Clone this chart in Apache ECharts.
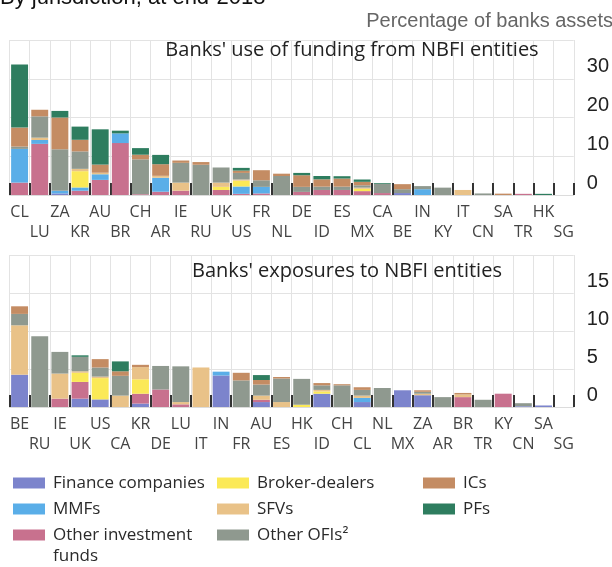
<!DOCTYPE html>
<html>
<head>
<meta charset="utf-8">
<script src="https://cdn.jsdelivr.net/npm/echarts@6/dist/echarts.min.js"></script>
<style>
html,body{margin:0;padding:0;background:#fff;}
#c{width:612px;height:567px;}
</style>
</head>
<body>
<div id="c"></div>
<script>
// ---------- DATA ----------
const seriesNames = ['Finance companies','Other investment funds','MMFs','Broker-dealers','SFVs','Other OFIs²','ICs','PFs'];
const seriesColors = ['#7c84cc','#c8718e','#5aaee8','#fbe957','#e9c288','#8f998f','#c48c63','#2e7d5f'];

// Panel 1: Banks' use of funding from NBFI entities
const topCats = ['CL','LU','ZA','KR','AU','BR','CH','AR','IE','RU','UK','US','FR','NL','DE','ID','ES','MX','CA','BE','IN','KY','IT','CN','SA','TR','HK','SG'];
const topFinance = [0,0,0.4,0,0,0,0,0,0,0,0,0,0,0,0,0,0,0,0,0.5,0,0,0,0,0,0,0,0];
const topOIF     = [3.2,13.2,0,1.1,3.9,13.4,0.2,0.85,1.1,0,1.3,0.3,0.4,0,0.8,1.3,1.3,1.0,0.5,0,0,0,0,0,0,0.3,0,0];
const topMMF     = [8.7,1.0,0.7,0.85,1.45,2.5,0,3.6,0,0,0,1.9,1.7,0,0,0,0,0,0,0,1.5,0,0,0,0,0,0,0];
const topBroker  = [0,0,0,4.2,0,0,0,0,0,0,0.8,1.5,0,0,0,0,0,0.6,0,0,0,0,0,0,0,0,0,0];
const topSFV     = [0,0.6,0,0.6,0.4,0,0,0.5,2.1,0,1.1,0.3,0,0,0,0,0,0.3,0,0,0,0,1.3,0,0,0,0,0];
const topOFI     = [0.6,5.5,10.7,4.5,0,0,9.0,0,5.1,7.8,3.9,1.7,1.7,4.9,1.3,0.85,0.85,0.6,2.4,1.0,0.8,1.9,0,0.4,0,0,0,0];
const topIC      = [4.9,1.7,8.2,3.0,2.1,0,1.2,3.0,0.6,0.7,0,0.6,2.6,0.6,3.0,1.9,2.1,0.9,0,1.3,0,0,0,0,0.35,0,0,0];
const topPF      = [16.3,0,1.7,3.4,9.1,0.7,1.7,2.4,0,0,0,0.7,0,0,0.6,0.85,0.6,0.6,0.2,0,0,0,0,0,0,0,0.3,0];

// Panel 2: Banks' exposures to NBFI entities
const botCats = ['BE','RU','IE','UK','US','CA','KR','DE','LU','IT','IN','FR','AU','ES','HK','ID','CH','CL','NL','MX','ZA','AR','BR','TR','KY','CN','SA','SG'];
const botFinance = [4.25,0,0,1.1,1.0,0,0.45,0,0,0,4.15,0,0.65,0,0,1.75,0,0.65,0,2.2,1.55,0,0,0,0,0.1,0.2,0];
const botOIF     = [0,0,1.1,2.2,0,0,1.3,2.3,0.35,0,0,0,0.3,0,0,0,0,0,0,0,0,0,1.3,0,1.75,0,0,0];
const botMMF     = [0,0,0,0,0,0,0,0,0,0,0.5,0,0,0,0,0,0,0.55,0,0,0,0,0,0,0,0,0,0];
const botBroker  = [0,0,0,1.2,2.8,0,1.9,0,0,0,0,0,0,0,0.3,0.3,0,0,0,0,0,0,0,0,0,0,0,0];
const botSFV     = [6.5,0,3.3,0.2,0.2,1.5,1.6,0,0.3,5.2,0,0,0.55,0.65,0,0.2,0,0.3,0,0,0.2,0,0.35,0,0,0,0,0];
const botOFI     = [1.5,9.3,2.85,1.9,1.2,2.6,0,3.1,4.7,0,0,3.5,1.45,3.1,3.4,0.6,2.85,0.75,2.5,0,0.25,1.3,0,0.95,0,0.4,0,0];
const botIC      = [1.0,0,0,0,1.1,0.6,0.3,0,0,0,0,1.0,0.6,0.2,0,0.3,0.15,0.35,0,0,0.2,0,0.2,0,0,0,0,0];
const botPF      = [0,0,0,0.2,0,1.3,0,0,0,0,0,0,0.65,0,0,0,0,0,0,0,0,0,0,0,0,0,0,0];

const topTicks = [0,10,20,30];
const botTicks = [0,5,10,15];

// ---------- CHART ----------
const FONT = 'Open Sans';
const topData = [topFinance, topOIF, topMMF, topBroker, topSFV, topOFI, topIC, topPF];
const botData = [botFinance, botOIF, botMMF, botBroker, botSFV, botOFI, botIC, botPF];

function xAxis(cats, gi) {
  return {
    type: 'category', gridIndex: gi, data: cats,
    axisLine: { show: true, lineStyle: { color: '#dcdcdc', width: 1 } },
    axisTick: { show: true, inside: true, length: 12, interval: 0, lineStyle: { color: '#333', width: 2 } },
    splitLine: { show: true, interval: 0, lineStyle: { color: '#e3e3e3', width: 1 } },
    axisLabel: {
      interval: 0, margin: 7, color: '#444', fontFamily: FONT, fontSize: 16, lineHeight: 20,
      formatter: (v, i) => (i % 2 ? '\n' + v : v)
    }
  };
}
function yAxis(gi, max, interval, ticks) {
  return {
    type: 'value', gridIndex: gi, position: 'right', min: 0, max: max, interval: interval,
    axisLine: { show: false }, axisTick: { show: false },
    splitLine: { show: true, lineStyle: { color: '#e3e3e3', width: 1 } },
    axisLabel: {
      showMaxLabel: false, margin: 13, align: 'left', verticalAlign: 'bottom',
      padding: [0, 0, 2, 0], color: '#222', fontFamily: 'Liberation Sans', fontSize: 20,
      formatter: v => (ticks.indexOf(v) >= 0 ? String(v) : '')
    }
  };
}

const series = [];
seriesNames.forEach((name, k) => {
  series.push({ name, type: 'bar', stack: 'top', xAxisIndex: 0, yAxisIndex: 0, data: topData[k],
    barCategoryGap: '16%', itemStyle: { color: seriesColors[k] } });
  series.push({ name, type: 'bar', stack: 'bot', xAxisIndex: 1, yAxisIndex: 1, data: botData[k],
    barCategoryGap: '16%', itemStyle: { color: seriesColors[k] } });
});

function legend(names, left) {
  return {
    orient: 'vertical', left: left, top: 467, itemWidth: 32, itemHeight: 11, itemGap: 4,
    icon: 'rect', selectedMode: false, data: names,
    formatter: n => (n === 'Other investment funds' ? 'Other investment' : n),
    textStyle: { fontFamily: FONT, fontSize: 17, color: '#2a2a2a', lineHeight: 22, padding: [0, 0, 0, 3] }
  };
}

const chart = echarts.init(document.getElementById('c'), null, { renderer: 'canvas' });
chart.setOption({
  animation: false,
  backgroundColor: '#fff',
  color: seriesColors,
  title: [
    { text: "Banks' use of funding from NBFI entities", left: 347, top: 35, textAlign: 'center',
      textStyle: { fontFamily: FONT, fontSize: 20, fontWeight: 'normal', color: '#222' } },
    { text: "Banks' exposures to NBFI entities", left: 342, top: 256, textAlign: 'center',
      textStyle: { fontFamily: FONT, fontSize: 20, fontWeight: 'normal', color: '#222' } }
  ],
  grid: [
    { left: 9.5, right: 35, top: 40, height: 155 },
    { left: 9.5, right: 35, top: 255, height: 152 }
  ],
  xAxis: [xAxis(topCats, 0), xAxis(botCats, 1)],
  yAxis: [yAxis(0, 40, 10, topTicks), yAxis(1, 20, 5, botTicks)],
  legend: [
    legend(['Finance companies','MMFs','Other investment funds'], 8),
    legend(['Broker-dealers','SFVs','Other OFIs²'], 212),
    legend(['ICs','PFs'], 418)
  ],
  graphic: [
    { type: 'text', x: 0, y: -13, style: { text: 'By jurisdiction, at end-2018', font: '22px "Liberation Sans"', fill: '#111' } },
    { type: 'text', x: 613, y: 11, style: { text: 'Percentage of banks assets', font: '20px "Liberation Sans"', fill: '#666', textAlign: 'right' } },
    { type: 'text', x: 53, y: 548, style: { text: 'funds', font: '17px "Open Sans"', fill: '#2a2a2a' } }
  ],
  series: series
});
</script>
</body>
</html>
